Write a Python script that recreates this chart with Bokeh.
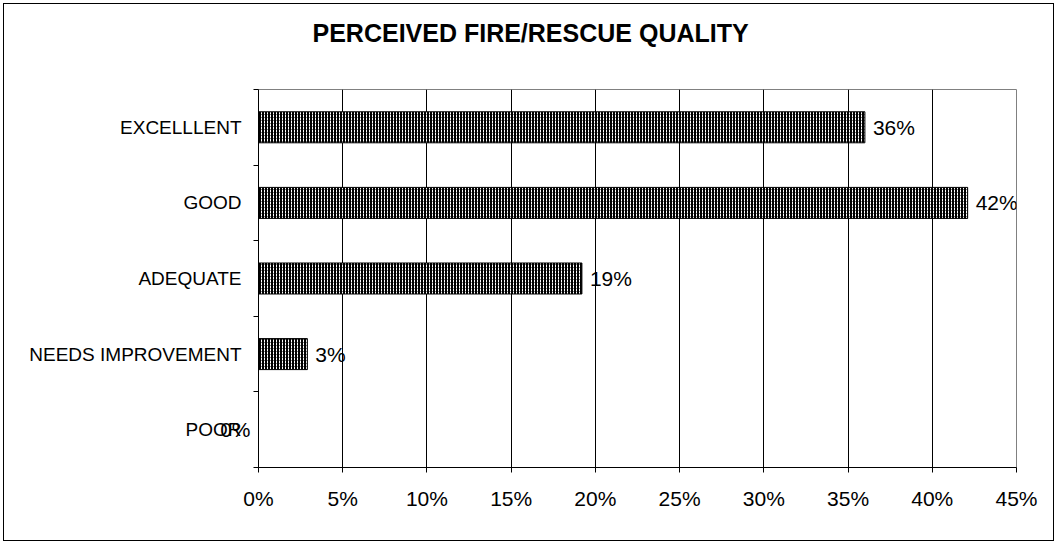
from bokeh.plotting import figure
from bokeh.models import (ColumnDataSource, FactorRange, Range1d, LinearAxis, CategoricalAxis,
                          FixedTicker, LabelSet, Title, CustomJSTickFormatter)
from bokeh.core.properties import value
from bokeh.embed import file_html
from bokeh.resources import INLINE

categories = ["EXCELLLENT", "GOOD", "ADEQUATE", "NEEDS IMPROVEMENT", "POOR"]
percent = [36.0, 42.1, 19.2, 2.9, 0.0]
x_ticks = [0, 5, 10, 15, 20, 25, 30, 35, 40, 45]
title_text = "PERCEIVED FIRE/RESCUE QUALITY"

FONT = "Liberation Sans"

labels = [f"{round(v)}%" for v in percent]
n_cat = len(categories)
pos = [i for i, v in enumerate(percent) if v > 0]
src = ColumnDataSource(dict(cat=categories, val=percent))
lab_src = ColumnDataSource(dict(cat=[categories[i] for i in pos], val=[percent[i] for i in pos],
                                lab=[labels[i] for i in pos]))
# zero-value bars: their label sits left of the value axis (synthetic factor coordinate)
zero_ticks = {n_cat - i - 0.5: labels[i] for i, v in enumerate(percent) if v <= 0}

p = figure(width=1049, height=536, output_backend="svg", toolbar_location=None,
           y_range=FactorRange(factors=list(reversed(categories)), range_padding=0),
           x_range=Range1d(0, 45), x_axis_location=None, y_axis_location=None,
           frame_width=758, frame_height=378, title=None,
           min_border_left=254, min_border_right=37, min_border_top=85, min_border_bottom=73)
p.styles = {"border": "1px solid black", "margin": "3px 0 0 3px"}
p.outline_line_color = "#808080"
p.outline_line_width = 1
p.background_fill_color = "white"
p.border_fill_color = "white"

# spacer between frame and title, then the title
p.add_layout(Title(text=" ", text_font_size="1px", standoff=28), "above")
p.add_layout(Title(text=title_text, text_font=FONT, text_font_size="25px", text_font_style="bold",
                   text_color="black", align="left", offset=54, standoff=24), "above")

# x axis
xa = LinearAxis(ticker=FixedTicker(ticks=x_ticks), formatter=CustomJSTickFormatter(code="return tick + '%'"))
xa.axis_line_color = "black"
xa.major_tick_line_color = "black"
xa.major_tick_out = 5
xa.major_tick_in = 0
xa.minor_tick_line_color = None
xa.major_label_text_font = FONT
xa.major_label_text_font_size = "21px"
xa.major_label_text_color = "black"
xa.major_label_standoff = 14
p.add_layout(xa, "below")

# y tick axis (boundaries between categories, in the factor range's synthetic coordinates)
ta = LinearAxis(ticker=FixedTicker(ticks=list(range(n_cat + 1))),
                formatter=CustomJSTickFormatter(code="return ''"))
ta.axis_line_color = "black"
ta.major_tick_line_color = "black"
ta.major_tick_out = 5
ta.major_tick_in = 0
ta.minor_tick_line_color = None
ta.major_label_standoff = 0
ta.major_label_text_font_size = "1px"
p.add_layout(ta, "left")

# zero-value data label(s)
za = LinearAxis(ticker=FixedTicker(ticks=list(zero_ticks.keys())), major_label_overrides=zero_ticks)
za.axis_line_color = None
za.major_tick_line_color = None
za.minor_tick_line_color = None
za.major_tick_out = 0
za.major_tick_in = 0
za.major_label_text_font = FONT
za.major_label_text_font_size = "21px"
za.major_label_text_color = "black"
za.major_label_standoff = 3
p.add_layout(za, "left")

# category labels axis (pulled back so it overlaps the zero label, as in the original)
ya = CategoricalAxis()
ya.axis_line_color = None
ya.major_tick_line_color = None
ya.major_tick_out = 0
ya.major_tick_in = 0
ya.major_label_text_font = FONT
ya.major_label_text_font_size = "19px"
ya.major_label_text_color = "black"
ya.major_label_standoff = -24
p.add_layout(ya, "left")

p.xgrid.ticker = FixedTicker(ticks=x_ticks)
p.xgrid.grid_line_color = "black"
p.xgrid.grid_line_width = 1
p.ygrid.grid_line_color = None

p.hbar(y="cat", right="val", left=0, height=0.41, source=src,
       fill_color="black", line_color="black", line_width=1,
       hatch_pattern="vertical_dash", hatch_color="white", hatch_scale=3, hatch_weight=1, hatch_alpha=1.0)

p.add_layout(LabelSet(x="val", y="cat", text="lab", x_offset=8, source=lab_src,
                      text_font=value(FONT), text_font_size=value("21px"), text_baseline="middle",
                      text_align="left", text_color="black"))

open("out.html", "w").write(file_html(p, INLINE))
